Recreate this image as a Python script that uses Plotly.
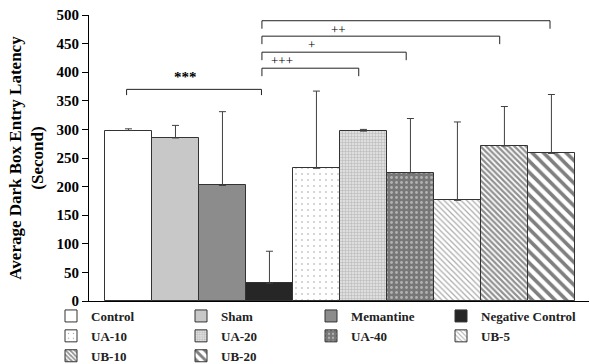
import plotly.graph_objects as go

# Group labels, mean latency and standard deviation (seconds)
groups = ["Control", "Sham", "Memantine", "Negative Control", "UA-10",
          "UA-20", "UA-40", "UB-5", "UB-10", "UB-20"]
means = [298, 285, 202, 31, 232, 297, 224, 176, 271, 258]
sds = [3, 22, 129, 56, 135, 3, 95, 137, 69, 103]

# Fill style for every group
styles = [
    dict(color="#ffffff"),
    dict(color="#c8c8c8"),
    dict(color="#8c8c8c"),
    dict(color="#262626"),
    dict(color="#ffffff", pattern=dict(shape=".", size=6, solidity=0.06,
                                       fgcolor="#444444", bgcolor="#ffffff")),
    dict(color="#d8d8d8", pattern=dict(shape="+", size=3, solidity=0.3,
                                       fgcolor="#8a8a8a", bgcolor="#dedede")),
    dict(color="#808080", pattern=dict(shape=".", size=5, solidity=0.25,
                                       fgcolor="#eeeeee", bgcolor="#777777")),
    dict(color="#ffffff", pattern=dict(shape="\\", size=4, solidity=0.3,
                                       fgcolor="#555555", bgcolor="#ffffff")),
    dict(color="#ffffff", pattern=dict(shape="\\", size=4, solidity=0.55,
                                       fgcolor="#222222", bgcolor="#ffffff")),
    dict(color="#ffffff", pattern=dict(shape="\\", size=8, solidity=0.45,
                                       fgcolor="#000000", bgcolor="#ffffff")),
]

# Legend column for each group (entries fill rows of four, left to right)
legend_ids = ["legend", "legend2", "legend3", "legend4"]

fig = go.Figure()
for i, (g, m, s, st) in enumerate(zip(groups, means, sds, styles)):
    fig.add_trace(go.Bar(
        x=[i], y=[m], name=g, width=1,
        legend=legend_ids[i % 4],
        marker=dict(line=dict(color="#333333", width=1), **st),
        error_y=dict(type="data", symmetric=False, array=[s], arrayminus=[0],
                     color="#404040", thickness=1, width=3.5),
    ))

# Significance brackets: (x start, x end, y level, tick drop)
brackets = [
    (-0.04, 2.83, 370, 10),
    (2.84, 4.90, 407, 14),
    (2.84, 5.91, 435, 14),
    (2.84, 7.90, 463, 14),
    (2.84, 8.97, 490, 14),
]
for x0, x1, y, d in brackets:
    fig.add_shape(type="path",
                  path=f"M {x0},{y-d} L {x0},{y} L {x1},{y} L {x1},{y-d}",
                  xref="x", yref="y", line=dict(color="#222222", width=1))

# Significance marks: (text, x, y, size, bold)
marks = [
    ("***", 1.21, 392, 15, True),
    ("+++", 3.27, 421, 13, False),
    ("+", 3.90, 448, 13, False),
    ("++", 4.46, 474, 13, False),
    ("++", 5.07, 503, 13, False),
]
for t, x, y, sz, b in marks:
    fig.add_annotation(x=x, y=y, xref="x", yref="y", text=t, showarrow=False,
                       font=dict(family="Liberation Serif", size=sz, color="#000000",
                                 weight="bold" if b else "normal"))

legend_font = dict(family="Liberation Serif", size=13, color="#222222",
                   weight="bold")
legend_x = [-0.076, 0.184, 0.444, 0.704]
legends = {
    lid: dict(orientation="v", x=lx, xanchor="left", y=0, yanchor="top",
              itemwidth=30, traceorder="normal", font=legend_font,
              bgcolor="rgba(0,0,0,0)", tracegroupgap=0)
    for lid, lx in zip(legend_ids, legend_x)
}

fig.update_layout(
    width=590, height=364,
    margin=dict(l=89, r=1, t=15, b=63, autoexpand=False),
    paper_bgcolor="white", plot_bgcolor="white",
    barmode="overlay", bargap=0,
    font=dict(family="Liberation Serif", color="#000000"),
    showlegend=True,
    xaxis=dict(range=[-0.84, 9.80], showticklabels=False, ticks="",
               showline=True, linecolor="#000000", linewidth=1,
               showgrid=False, zeroline=False),
    yaxis=dict(range=[0, 500], dtick=50, ticks="outside", ticklen=6,
               tickcolor="#000000", showline=True, linecolor="#000000",
               linewidth=1, showgrid=False, zeroline=False,
               tickfont=dict(family="Liberation Serif", size=15, weight="bold"),
               title=dict(text="Average Dark Box Entry Latency<br>(Second)",
                          font=dict(family="Liberation Serif", size=17,
                                    weight="bold"),
                          standoff=8)),
    **legends,
)

fig.write_html("out.html")
